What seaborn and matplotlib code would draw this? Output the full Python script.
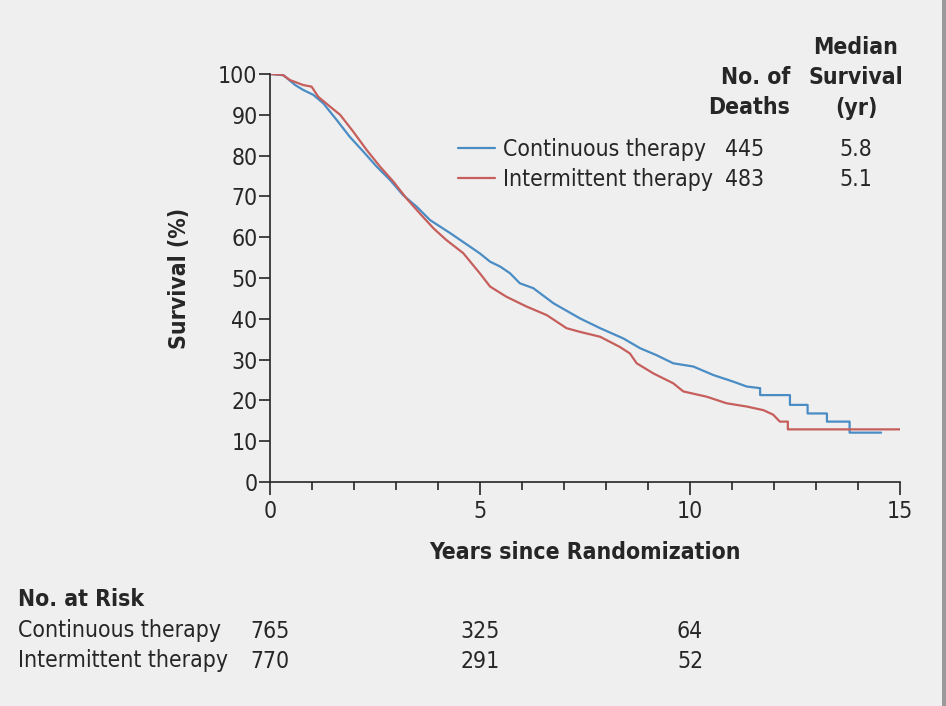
import pandas as pd
import matplotlib.pyplot as plt
import matplotlib.transforms as mtransforms
import seaborn as sns

# Kaplan-Meier curves (years, survival %);
# repeated years mark the visible vertical drops late in follow-up
cont_years = [0.0, 0.32, 0.6, 0.79, 1.03, 1.27, 1.59, 1.9, 2.22, 2.54, 2.86, 3.17,
              3.49, 3.81, 4.29, 4.76, 5.0, 5.24, 5.48, 5.71, 5.95, 6.27, 6.75, 7.38,
              7.86, 8.41, 8.81, 9.2, 9.6, 10.08, 10.56, 11.03, 11.35, 11.67, 11.67,
              12.38, 12.38, 12.8, 12.8, 13.26, 13.26, 13.8, 13.8, 14.55]
cont_surv = [100, 99.7, 97.3, 96.1, 94.9, 92.8, 88.7, 84.6, 81, 77.3, 74, 70.3,
             67.5, 64.2, 61, 57.7, 56, 54, 52.8, 51.2, 48.7, 47.5, 43.8, 40.1,
             37.7, 35.2, 32.8, 31.1, 29.1, 28.3, 26.2, 24.6, 23.4, 23.0, 21.3,
             21.3, 18.9, 18.9, 16.8, 16.8, 14.8, 14.8, 12.1, 12.1]

inter_years = [0.0, 0.3, 0.48, 0.79, 0.99, 1.15, 1.43, 1.67, 1.98, 2.3, 2.62, 2.94,
               3.25, 3.57, 3.89, 4.2, 4.6, 5.0, 5.24, 5.63, 6.11, 6.59, 7.06, 7.38,
               7.86, 8.33, 8.57, 8.73, 9.13, 9.6, 9.84, 10.4, 10.87, 11.35, 11.75,
               11.98, 12.14, 12.33, 12.33, 15.0]
inter_surv = [100, 99.8, 98.5, 97.3, 96.9, 94.4, 92, 90, 85.9, 81.4, 77.3, 73.6,
              69.5, 65.8, 62.2, 59.3, 56.1, 51.1, 47.9, 45.4, 43, 40.9, 37.7, 36.8,
              35.6, 33.1, 31.5, 29.1, 26.6, 24.2, 22.2, 20.9, 19.3, 18.5, 17.6,
              16.5, 14.8, 14.8, 12.9, 12.9]

groups = ["Continuous therapy", "Intermittent therapy"]
deaths = ["445", "483"]
median_surv = ["5.8", "5.1"]

risk_years = [0, 5, 10]
risk_cont = ["765", "325", "64"]
risk_inter = ["770", "291", "52"]

colors = {"Continuous therapy": "#4a8cc4", "Intermittent therapy": "#c65f5c"}
bg = "#efefef"
ink = "#262626"
fs = 16.5

df = pd.concat([
    pd.DataFrame({"Years": cont_years, "Survival": cont_surv, "Group": groups[0]}),
    pd.DataFrame({"Years": inter_years, "Survival": inter_surv, "Group": groups[1]}),
], ignore_index=True)

sns.set_style("ticks")
plt.rcParams["font.family"] = ["DejaVu Sans"]
plt.rcParams["font.stretch"] = "condensed"
plt.rcParams["text.color"] = ink
plt.rcParams["axes.labelcolor"] = ink
plt.rcParams["xtick.color"] = ink
plt.rcParams["ytick.color"] = ink

fig = plt.figure(figsize=(9.46, 7.06), dpi=100, facecolor=bg)
ax = fig.add_axes([270 / 946, 1 - 482 / 706, 630 / 946, 408 / 706])
ax.set_facecolor(bg)

sns.lineplot(data=df, x="Years", y="Survival", hue="Group", palette=colors,
             estimator=None, sort=False, linewidth=1.6, ax=ax, legend=False)

ax.set_xlim(0, 15)
ax.set_ylim(0, 100)
ax.set_xticks([0, 5, 10, 15])
ax.set_xticks(range(0, 16), minor=True)
ax.set_yticks(range(0, 101, 10))
for s in ["top", "right"]:
    ax.spines[s].set_visible(False)
for s in ["left", "bottom"]:
    ax.spines[s].set_color(ink)
    ax.spines[s].set_linewidth(1.2)
ax.tick_params(axis="y", direction="out", length=8, width=1.2, pad=1, labelsize=fs)
ax.tick_params(axis="x", which="major", direction="out", length=9, width=1.2, pad=4, labelsize=fs)
ax.tick_params(axis="x", which="minor", direction="out", length=6, width=1.2)

ax.set_xlabel("Years since Randomization", fontsize=fs, fontweight="bold")
ax.set_ylabel("Survival (%)", fontsize=fs, fontweight="bold")
ax.xaxis.set_label_coords(0.5, -0.145)
ax.yaxis.set_label_coords(-0.125, 0.5)

# legend with deaths / median columns
handles = ax.get_lines()[:2]
leg = ax.legend(handles, groups, loc="upper left", bbox_to_anchor=(458 / 946, 1 - 138 / 706),
                bbox_transform=fig.transFigure, frameon=False, fontsize=fs,
                handlelength=1.6, handletextpad=0.35, labelspacing=0.3,
                borderpad=0, borderaxespad=0)

def fx(px):
    return px / 946

def fy(py):
    return 1 - py / 706

fig.text(fx(790), fy(77), "No. of", ha="right", va="center", fontsize=fs, fontweight="bold")
fig.text(fx(790), fy(108), "Deaths", ha="right", va="center", fontsize=fs, fontweight="bold")
fig.text(fx(856), fy(47), "Median", ha="center", va="center", fontsize=fs, fontweight="bold")
fig.text(fx(856), fy(77), "Survival", ha="center", va="center", fontsize=fs, fontweight="bold")
fig.text(fx(856), fy(108), "(yr)", ha="center", va="center", fontsize=fs, fontweight="bold")
for i, (d, m) in enumerate(zip(deaths, median_surv)):
    y = fy(150 + 29 * i)
    fig.text(fx(745), y, d, ha="center", va="center", fontsize=fs)
    fig.text(fx(856), y, m, ha="center", va="center", fontsize=fs)

# number at risk table
trans = mtransforms.blended_transform_factory(ax.transData, fig.transFigure)
fig.text(fx(18), fy(600), "No. at Risk", ha="left", va="center", fontsize=fs, fontweight="bold")
for i, (name, vals) in enumerate(zip(groups, [risk_cont, risk_inter])):
    y = fy(631 + 30 * i)
    fig.text(fx(18), y, name, ha="left", va="center", fontsize=fs)
    for t, v in zip(risk_years, vals):
        ax.text(t, y, v, transform=trans, ha="center", va="center", fontsize=fs, clip_on=False)

# grey frame edge on the right
fig.add_artist(plt.Rectangle((fx(942), 0), fx(4), 1, transform=fig.transFigure,
                             color="#9a9a9a", lw=0))

fig.savefig("out.png", dpi=100, facecolor=bg)
